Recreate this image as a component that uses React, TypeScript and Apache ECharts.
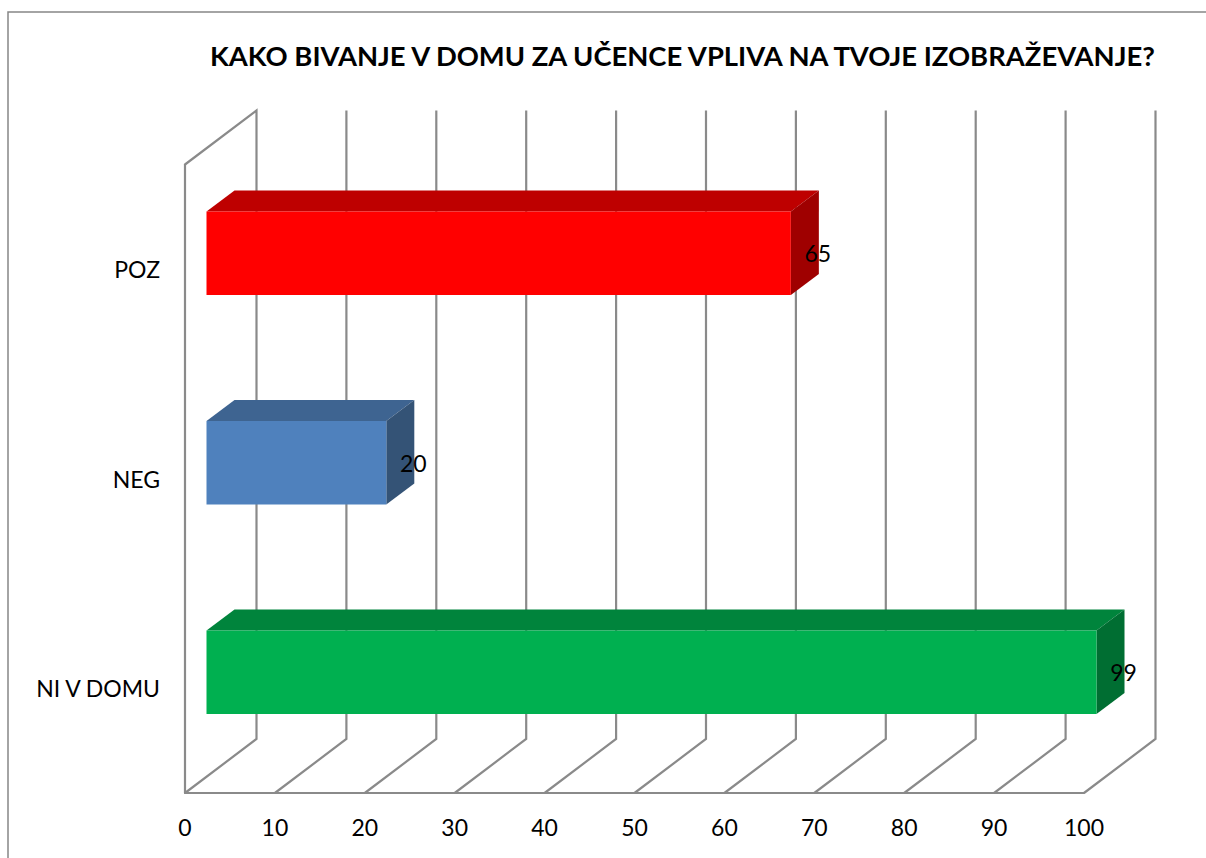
import React, { useEffect, useRef } from "react";
import * as echarts from "echarts";

const titleText = "KAKO BIVANJE V DOMU ZA UČENCE VPLIVA NA TVOJE IZOBRAŽEVANJE?";
const categories = ["POZ", "NEG", "NI V DOMU"];
const values = [65, 20, 99];
const ticks = [0, 10, 20, 30, 40, 50, 60, 70, 80, 90, 100];

const faceColors = ["#FF0000", "#4F81BD", "#00B050"];
const topColors = ["#BE0000", "#3E6491", "#00843C"];
const sideColors = ["#9F0000", "#345376", "#006E32"];

const FONT = "Lato, Carlito, Calibri, sans-serif";
const GRID_COLOR = "#8A8A8A";
const WALL_DX = 71.5;
const WALL_DY = 54;
const BAR_SHIFT_X = 21.5;
const BAR_SHIFT_Y = 16;
const BAR_DX = 28;
const BAR_DY = 21;
const BAR_H = 83.5;

function renderWall(params: any, api: any) {
  const t = api.value(0);
  const x = api.coord([t, 0])[0];
  const cs = params.coordSys;
  const bottom = cs.y + cs.height;
  const top = cs.y;
  const points: number[][] = [
    [x, bottom],
    [x + WALL_DX, bottom - WALL_DY],
    [x + WALL_DX, top - WALL_DY],
  ];
  if (t === ticks[0]) points.push([x, top]);
  return {
    type: "polyline",
    shape: { points },
    style: { stroke: GRID_COLOR, lineWidth: 2.2, fill: "none" },
  };
}

function renderBar(params: any, api: any) {
  const i = params.dataIndex;
  const v = api.value(0);
  const c = api.value(1);
  const end = api.coord([v, c]);
  const start = api.coord([0, c]);
  const x0 = start[0] + BAR_SHIFT_X;
  const x1 = end[0] + BAR_SHIFT_X;
  const yc = end[1] - BAR_SHIFT_Y;
  const y0 = yc - BAR_H / 2;
  const y1 = yc + BAR_H / 2;
  return {
    type: "group",
    children: [
      {
        type: "polygon",
        shape: { points: [[x0, y0], [x0 + BAR_DX, y0 - BAR_DY], [x1 + BAR_DX, y0 - BAR_DY], [x1, y0]] },
        style: { fill: topColors[i] },
      },
      {
        type: "polygon",
        shape: { points: [[x1, y0], [x1 + BAR_DX, y0 - BAR_DY], [x1 + BAR_DX, y1 - BAR_DY], [x1, y1]] },
        style: { fill: sideColors[i] },
      },
      {
        type: "rect",
        shape: { x: x0, y: y0, width: x1 - x0, height: y1 - y0 },
        style: { fill: faceColors[i] },
      },
      {
        type: "text",
        x: x1 + 27,
        y: yc,
        style: {
          text: String(v),
          fontFamily: FONT,
          fontSize: 23,
          fill: "#000",
          textAlign: "center",
          textVerticalAlign: "middle",
          align: "center",
          verticalAlign: "middle",
        },
      },
    ],
  };
}

export default function App() {
  const ref = useRef<HTMLDivElement>(null);
  useEffect(() => {
    const chart = echarts.init(ref.current!, null, { renderer: "svg" });
    chart.setOption({
      animation: false,
      backgroundColor: "#FFFFFF",
      title: {
        text: titleText,
        left: 205,
        top: 37,
        textStyle: { fontFamily: FONT, fontSize: 27.4, fontWeight: "bold", color: "#000" },
      },
      graphic: [
        {
          type: "polyline",
          shape: { points: [[8, 858], [8, 12], [1206, 12]] },
          style: { stroke: "#868686", lineWidth: 1.5, fill: "none" },
          silent: true,
        },
      ],
      grid: { left: 185, top: 164.5, width: 899, height: 628.5, containLabel: false },
      xAxis: {
        type: "value",
        min: 0,
        max: 100,
        interval: 10,
        splitLine: { show: false },
        axisTick: { show: false },
        axisLine: { show: true, lineStyle: { color: GRID_COLOR, width: 2.2 } },
        axisLabel: { fontFamily: FONT, fontSize: 23, color: "#000", margin: 22 },
      },
      yAxis: {
        type: "category",
        inverse: true,
        data: categories,
        splitLine: { show: false },
        axisTick: { show: false },
        axisLine: { show: true, lineStyle: { color: GRID_COLOR, width: 2.2 } },
        axisLabel: { fontFamily: FONT, fontSize: 23, color: "#000", margin: 25 },
      },
      series: [
        {
          type: "custom",
          coordinateSystem: "cartesian2d",
          renderItem: renderWall,
          data: ticks.map((t) => [t, 0]),
          encode: { x: 0, y: 1 },
          silent: true,
          z: 1,
        },
        {
          type: "custom",
          coordinateSystem: "cartesian2d",
          renderItem: renderBar,
          data: values.map((v, i) => [v, i]),
          encode: { x: 0, y: 1 },
          silent: true,
          z: 2,
        },
      ],
    });
    return () => chart.dispose();
  }, []);
  return (
    <div
      ref={ref}
      style={{ position: "fixed", left: 0, top: 0, width: 1206, height: 858 }}
    />
  );
}
